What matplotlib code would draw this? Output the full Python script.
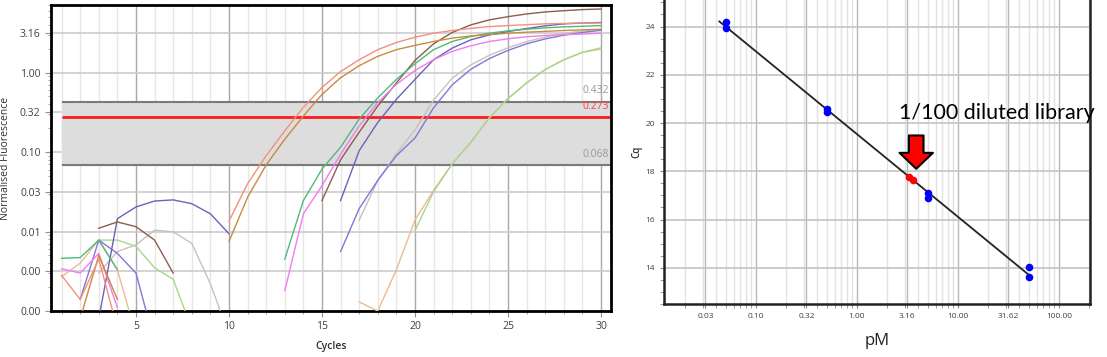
import numpy as np
import matplotlib
matplotlib.use("Agg")
import matplotlib.pyplot as plt
from matplotlib.ticker import FixedLocator, LogLocator, MultipleLocator, NullFormatter

plt.rcParams['font.family'] = ['Open Sans', 'DejaVu Sans']

nan = np.nan
cycles = np.arange(1, 31)

# normalised fluorescence per cycle (nan = below zero, not drawn)
salmon = [0.0028, 0.0014, 0.0045, 0.0006, nan, nan, nan, nan, nan, 0.0135,
          0.040, 0.09, 0.185, 0.365, 0.65, 1.03, 1.45, 1.94, 2.39, 2.78,
          3.13, 3.38, 3.6, 3.79, 3.9, 4.0, 4.1, 4.15, 4.2, 4.2]
orange = [nan, 0.0008, 0.005, 0.0014, nan, nan, nan, nan, nan, 0.0075,
          0.027, 0.069, 0.145, 0.284, 0.53, 0.86, 1.22, 1.6, 1.94, 2.2,
          2.46, 2.71, 2.89, 3.0, 3.13, 3.22, 3.3, 3.38, 3.45, 3.5]
green = [0.0046, 0.0047, 0.0078, 0.0033, nan, nan, nan, nan, nan, nan,
         nan, nan, 0.0045, 0.0245, 0.061, 0.115, 0.26, 0.48, 0.82, 1.29,
         1.94, 2.46, 2.84, 3.13, 3.35, 3.51, 3.65, 3.76, 3.82, 3.9]
pink = [0.0034, 0.0030, 0.0053, 0.0011, nan, nan, nan, nan, nan, nan,
        nan, nan, 0.0018, 0.0167, 0.0377, 0.094, 0.213, 0.42, 0.71, 1.06,
        1.45, 1.85, 2.17, 2.46, 2.66, 2.82, 2.93, 3.0, 3.05, 3.13]
brown = [nan, nan, 0.011, 0.0132, 0.0115, 0.0078, 0.0030, nan, nan, nan,
         nan, nan, nan, nan, 0.0245, 0.08, 0.178, 0.38, 0.74, 1.42,
         2.3, 3.19, 3.98, 4.6, 5.05, 5.46, 5.79, 6.0, 6.2, 6.3]
purple = [nan, nan, 0.0008, 0.0145, 0.0204, 0.0242, 0.025, 0.0224, 0.0167, 0.0094,
          nan, nan, nan, nan, nan, 0.0245, 0.104, 0.236, 0.46, 0.82,
          1.45, 2.03, 2.58, 2.98, 3.28, 3.58, 3.87, 4.1, 4.2, 4.27]
violet = [nan, 0.0014, 0.0078, 0.0053, 0.0030, 0.0004, nan, nan, nan, nan,
          nan, nan, nan, nan, nan, 0.0056, 0.0194, 0.044, 0.09, 0.15,
          0.36, 0.7, 1.1, 1.5, 1.9, 2.3, 2.65, 2.95, 3.2, 3.4]
greytan = [nan, nan, 0.003, 0.0056, 0.0068, 0.0104, 0.0099, 0.0071, 0.0022, 0.0005,
           nan, nan, nan, nan, nan, nan, 0.0139, 0.044, 0.095, 0.19,
           0.45, 0.85, 1.25, 1.65, 2.05, 2.45, 2.8, 3.1, 3.35, 3.5]
lightgreen = [nan, nan, 0.0078, 0.0078, 0.0065, 0.0035, 0.0025, 0.0006, nan, nan,
              nan, nan, nan, nan, nan, nan, nan, nan, nan, 0.0103,
              0.0316, 0.071, 0.132, 0.27, 0.47, 0.74, 1.09, 1.45, 1.8, 2.05]
tan = [0.0027, 0.004, 0.0078, 0.0033, 0.0005, nan, nan, nan, nan, nan,
       nan, nan, nan, nan, nan, nan, 0.0013, 0.001, 0.0033, 0.0139,
       0.033, 0.071, 0.132, 0.27, 0.47, 0.74, 1.09, 1.45, 1.79, 1.98]

curves = [(tan, '#ebbb92'), (lightgreen, '#a6d88c'), (greytan, '#cbc1b7'),
          (violet, '#8574dc'), (purple, '#6f60b9'), (brown, '#8e5c4c'),
          (pink, '#f07cf0'), (green, '#4dbb78'), (orange, '#cc8a3c'),
          (salmon, '#f4907c')]

thr_low, thr, thr_high = 0.068, 0.273, 0.432

# standard curve
std_pM = [0.05, 0.05, 0.5, 0.5, 5, 5, 50, 50]
std_cq = [24.2, 23.95, 20.6, 20.47, 17.1, 16.91, 14.05, 13.6]
lib_pM = [3.3, 3.6]
lib_cq = [17.75, 17.65]

y_ticks = [10 ** (k / 2) for k in range(-6, 2)]
x_ticks_r = [10 ** (k / 2) for k in range(-3, 5)]
x_labels_r = ['0.03', '0.10', '0.32', '1.00', '3.16', '10.00', '31.62', '100.00']

fig = plt.figure(figsize=(11.07, 3.57), dpi=100)

# ---- left: amplification plot ----
ax = fig.add_axes([51 / 1107, 46 / 357, 560 / 1107, 306 / 357])
ax.set_yscale('log')
ax.set_xlim(0.43, 30.54)
ax.set_ylim(0.001, 7.08)
ax.set_axisbelow(True)

ax.xaxis.set_major_locator(MultipleLocator(5))
ax.xaxis.set_minor_locator(MultipleLocator(1))
ax.yaxis.set_major_locator(FixedLocator(y_ticks))
ax.yaxis.set_minor_locator(LogLocator(base=10, subs=np.arange(2, 10)))
ax.yaxis.set_minor_formatter(NullFormatter())
ax.set_yticklabels(['%.2f' % v for v in y_ticks])

ax.grid(which='major', axis='x', color='#a8a8a8', lw=1)
ax.grid(which='minor', axis='x', color='#e6e6e6', lw=1)
ax.grid(which='major', axis='y', color='#cccccc', lw=1.2)

ax.fill_between([1, 30.54], thr_low, thr_high, color='#dddddd', zorder=1)
ax.hlines([thr_low, thr_high], 1, 30.54, color='#7a7a7a', lw=1.5, zorder=2)
ax.hlines(thr, 1, 30.54, color='#ff1a1a', lw=2, zorder=2)
for v, c in [(thr_high, '#999999'), (thr, '#ff4040'), (thr_low, '#999999')]:
    ax.annotate('%.3f' % v, xy=(0.997, v), xycoords=('axes fraction', 'data'),
                xytext=(0, 4), textcoords='offset points', ha='right', va='bottom',
                fontsize=7.5, color=c)

for vals, col in curves:
    ax.plot(cycles, vals, color=col, lw=1, zorder=3)

for s in ax.spines.values():
    s.set_linewidth(2)
    s.set_color('black')
ax.tick_params(which='both', colors='#909090', labelcolor='#404040', labelsize=7.5)
ax.tick_params(which='major', length=4)
ax.tick_params(which='minor', length=2.5)
ax.set_xlabel('Cycles', fontsize=7.5, fontweight='semibold', color='#303030', labelpad=6)
ax.set_ylabel('Normalised Fluorescence', fontsize=7.5, color='#303030', labelpad=6)

# ---- right: standard curve ----
ax2 = fig.add_axes([664 / 1107, 53 / 357, 426 / 1107, 304 / 357])
ax2.set_xscale('log')
ax2.set_xlim(0.0123, 203)
ax2.set_ylim(12.5, 25.1)
ax2.set_axisbelow(True)

ax2.xaxis.set_major_locator(FixedLocator(x_ticks_r))
ax2.set_xticklabels(x_labels_r)
ax2.xaxis.set_minor_locator(LogLocator(base=10, subs=np.arange(1, 10)))
ax2.xaxis.set_minor_formatter(NullFormatter())
ax2.yaxis.set_major_locator(MultipleLocator(2))
ax2.yaxis.set_minor_locator(MultipleLocator(0.5))

ax2.grid(which='major', axis='x', color='#b8b8b8', lw=1)
ax2.grid(which='minor', axis='x', color='#e2e2e2', lw=1)
ax2.grid(which='major', axis='y', color='#c4c4c4', lw=1.2)

slope, icpt = np.polyfit(np.log10(std_pM), std_cq, 1)
fx = np.array([min(std_pM) / 1.15, max(std_pM)])
ax2.plot(fx, slope * np.log10(fx) + icpt, color='#222222', lw=1.3, zorder=3)
ax2.scatter(std_pM, std_cq, s=30, color='#0000ff', zorder=4, lw=0)
ax2.scatter(lib_pM, lib_cq, s=30, color='#ff0000', zorder=4, lw=0)

lx, ly = np.mean(lib_pM), np.mean(lib_cq)
ax2.annotate('', xy=(lx * 1.12, ly), xytext=(0, 31), textcoords='offset points',
             arrowprops=dict(arrowstyle='simple,head_length=1.15,head_width=2.4,tail_width=1.05',
                             mutation_scale=10, fc='#ff0000', ec='black', lw=1.5,
                             shrinkA=0, shrinkB=7), zorder=5)
ax2.annotate('1/100 diluted library', xy=(lx, ly), xytext=(62, 47),
             textcoords='offset points', ha='center', va='center',
             fontsize=15.5, family=['Lato', 'DejaVu Sans'], color='black',
             annotation_clip=False, zorder=6)

ax2.spines['top'].set_visible(False)
for side in ['left', 'bottom', 'right']:
    ax2.spines[side].set_linewidth(1.8)
    ax2.spines[side].set_color('#222222')
ax2.tick_params(which='both', colors='#888888', labelcolor='#404040', labelsize=6)
ax2.tick_params(which='major', length=3)
ax2.tick_params(which='minor', length=3)
ax2.set_xlabel('pM', fontsize=12, color='#222222', labelpad=9)
ax2.set_ylabel('Cq', fontsize=7, fontweight='semibold', color='#303030', labelpad=2)

fig.savefig('out.png', dpi=100)
